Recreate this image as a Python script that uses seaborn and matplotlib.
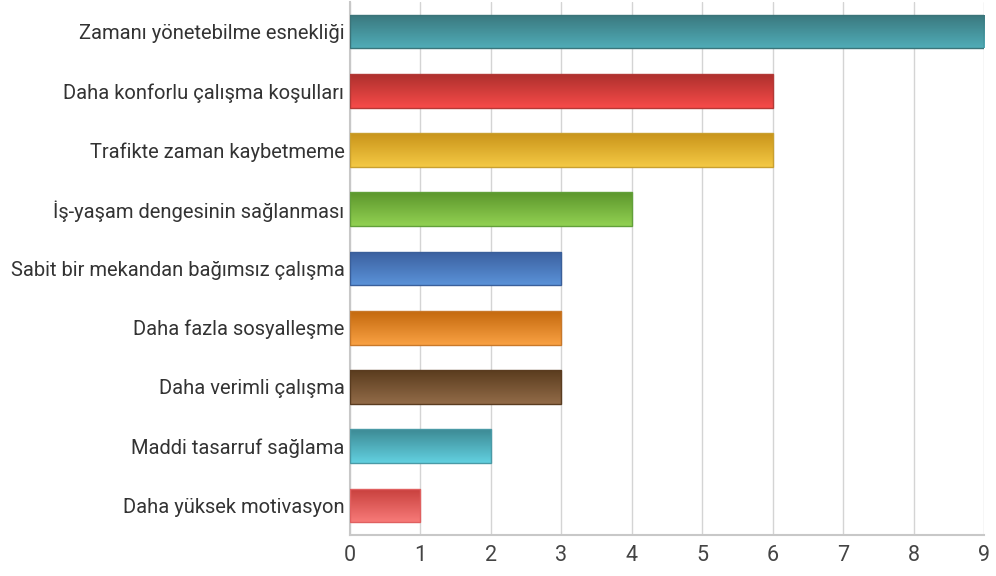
import numpy as np
import pandas as pd
import matplotlib
matplotlib.use("Agg")
import matplotlib.pyplot as plt
import seaborn as sns
from matplotlib.colors import LinearSegmentedColormap

categories = [
    "Zamanı yönetebilme esnekliği",
    "Daha konforlu çalışma koşulları",
    "Trafikte zaman kaybetmeme",
    "İş-yaşam dengesinin sağlanması",
    "Sabit bir mekandan bağımsız çalışma",
    "Daha fazla sosyalleşme",
    "Daha verimli çalışma",
    "Maddi tasarruf sağlama",
    "Daha yüksek motivasyon",
]
values = [9, 6, 6, 4, 3, 3, 3, 2, 1]
top_colors = ["#3a777d", "#ad302d", "#c9941a", "#5c962c", "#3a5f9e", "#c4690e", "#5a3c1e", "#3d8a94", "#c73f3c"]
bottom_colors = ["#50acb7", "#f74b49", "#f4c944", "#92d152", "#5b92d8", "#f9a143", "#926b48", "#62d0e0", "#f77a78"]
edge_colors = ["#3b7479", "#b33a37", "#c9a030", "#62a03a", "#3a5f9a", "#c8782a", "#5a3c20", "#4a9aa6", "#e06060"]
ticks = list(range(0, 10))

sns.set_theme(style="white")
plt.rcParams['font.family'] = ['Roboto', 'DejaVu Sans']

df = pd.DataFrame({"cat": categories, "val": values})

fig = plt.figure(figsize=(9.96, 5.76), dpi=100)
ax = fig.add_axes([350/996, 1-535/576, (984-350)/996, (535-2)/576])

sns.barplot(data=df, x="val", y="cat", orient="h", width=0.57, ax=ax,
            color="white", edgecolor="none", saturation=1, zorder=3)

for i, p in enumerate(ax.patches):
    x0, y0 = p.get_x(), p.get_y()
    w, h = p.get_width(), p.get_height()
    cmap = LinearSegmentedColormap.from_list("g", [top_colors[i], bottom_colors[i]])
    grad = np.linspace(0, 1, 100).reshape(-1, 1)
    im = ax.imshow(grad, cmap=cmap, aspect="auto", extent=[x0, x0 + w, y0 + h, y0],
                   origin="upper", zorder=3, interpolation="bicubic")
    im.set_clip_path(p)
    p.set_edgecolor(edge_colors[i])
    p.set_linewidth(1.0)
    p.set_facecolor("none")
    p.set_zorder(4)

ax.set_xlim(0, 9)
ax.set_ylim(8.5, -0.5)
ax.set_xticks(ticks)
ax.set_xticklabels([str(t) for t in ticks], fontsize=15.5, color="#444444")
ax.tick_params(axis="x", length=5, width=1, color="#c8c8c8", pad=2)
ax.tick_params(axis="y", length=0, pad=4, labelsize=14.5, labelcolor="#333333")
ax.set_xlabel("")
ax.set_ylabel("")
ax.grid(axis="x", color="#d4d4d4", linewidth=1, zorder=0)
ax.set_axisbelow(True)
for s in ["top", "right"]:
    ax.spines[s].set_visible(False)
ax.spines["left"].set_color("#c8c8c8")
ax.spines["bottom"].set_color("#c8c8c8")
ax.spines["left"].set_linewidth(1.5)
ax.spines["bottom"].set_linewidth(1.5)

fig.savefig("out.png", dpi=100, facecolor="white")
